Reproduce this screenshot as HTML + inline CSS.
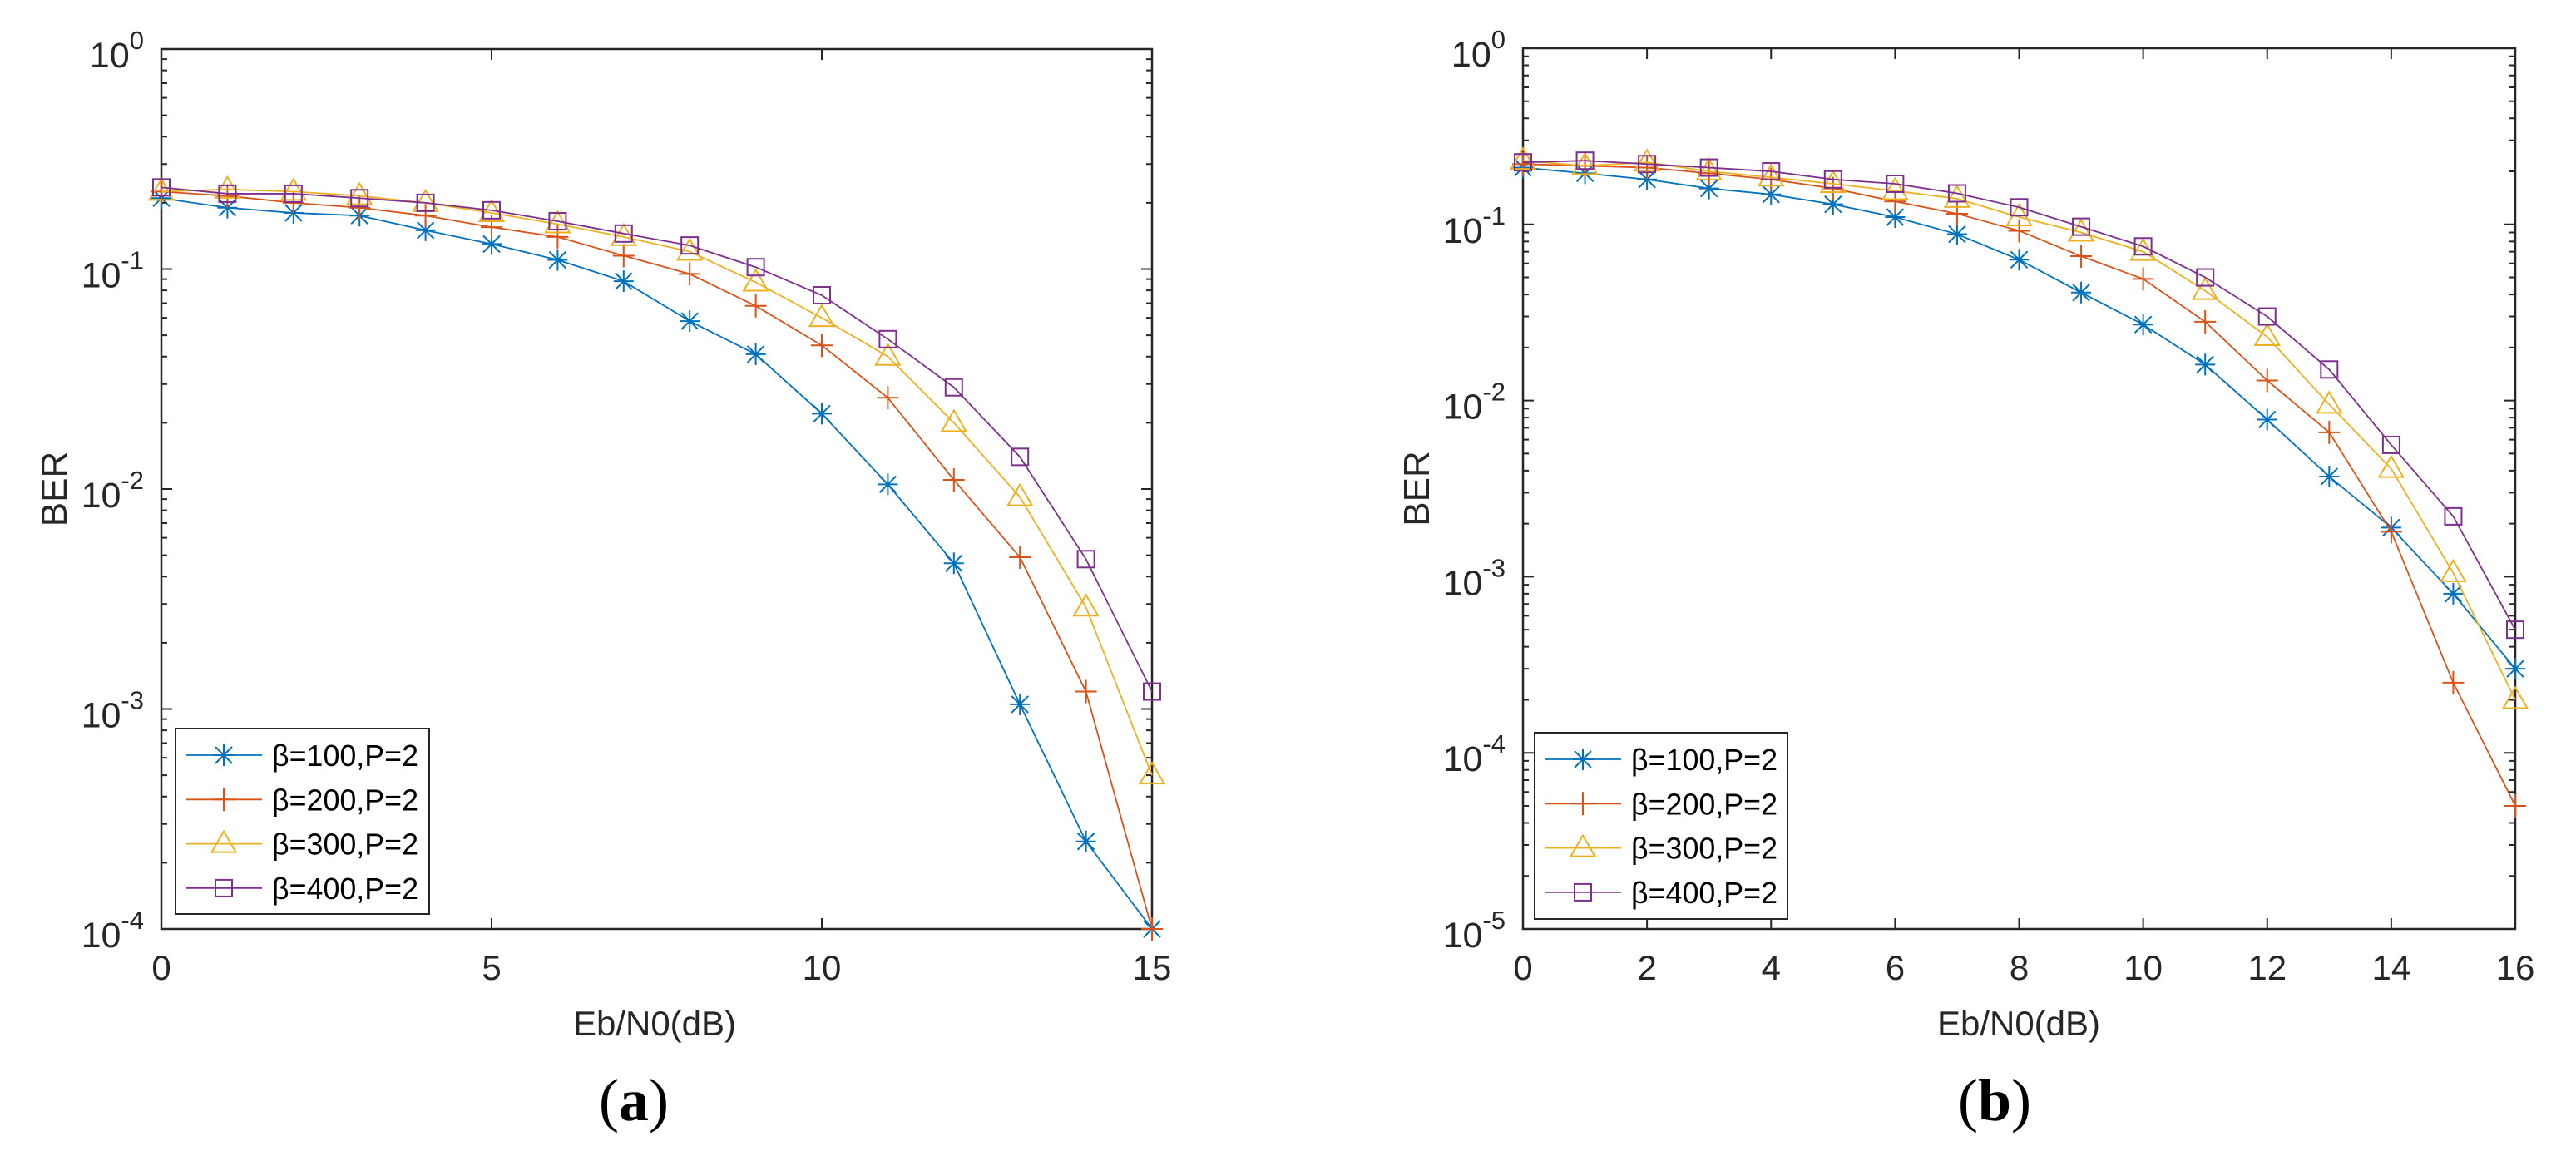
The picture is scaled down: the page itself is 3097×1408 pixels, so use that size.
<!DOCTYPE html>
<html><head><meta charset="utf-8"><style>
html,body{margin:0;padding:0;background:#fff;}
svg{display:block;}
text{font-family:"Liberation Sans",sans-serif;fill:#262626;}
</style></head><body>
<svg id="fig" width="3097" height="1408" viewBox="0 0 3097 1408" xmlns="http://www.w3.org/2000/svg"></svg>
<script>
const seriesLabels = ["β=100,P=2","β=200,P=2","β=300,P=2","β=400,P=2"];
const colors = ["#0072BD","#D95319","#EDB120","#7E2F8E"];
const markers = ["star","plus","tri","sq"];
const xA = [0,1,2,3,4,5,6,7,8,9,10,11,12,13,14,15];
const a100 = [0.21,0.19,0.18,0.175,0.15,0.13,0.11,0.088,0.058,0.041,0.022,0.0105,0.0046,0.00105,0.00025,0.0001];
const a200 = [0.225,0.215,0.2,0.19,0.175,0.155,0.14,0.115,0.095,0.068,0.045,0.026,0.011,0.0049,0.0012,0.0001];
const a300 = [0.225,0.23,0.225,0.215,0.2,0.18,0.16,0.14,0.12,0.087,0.06,0.04,0.02,0.0092,0.0029,0.0005];
const a400 = [0.235,0.22,0.22,0.21,0.2,0.185,0.165,0.145,0.128,0.102,0.076,0.048,0.029,0.014,0.0048,0.0012];
const xB = [0,1,2,3,4,5,6,7,8,9,10,11,12,13,14,15,16];
const b100 = [0.21,0.195,0.18,0.16,0.148,0.13,0.11,0.088,0.063,0.041,0.027,0.016,0.0078,0.0037,0.0019,0.0008,0.0003];
const b200 = [0.22,0.215,0.21,0.195,0.18,0.16,0.135,0.115,0.092,0.066,0.049,0.028,0.013,0.0066,0.0018,0.00025,0.00005];
const b300 = [0.23,0.215,0.225,0.2,0.185,0.17,0.155,0.14,0.11,0.09,0.07,0.042,0.023,0.0095,0.0041,0.00105,0.0002];
const b400 = [0.225,0.23,0.22,0.21,0.2,0.18,0.17,0.15,0.125,0.097,0.075,0.05,0.03,0.015,0.0056,0.0022,0.0005];
const xTicksA = [0,5,10,15];
const xTicksB = [0,2,4,6,8,10,12,14,16];

const NS="http://www.w3.org/2000/svg";
const svg=document.getElementById('fig');
function mk(tag,attrs,parent){const e=document.createElementNS(NS,tag);for(const k in attrs)e.setAttribute(k,attrs[k]);(parent||svg).appendChild(e);return e;}

function marker(g,type,x,y,c){
  const s={stroke:c,'stroke-width':2,fill:'none'};
  let m;
  if(type==='star'){
    m=mk('path',Object.assign({d:`M${x-12},${y}H${x+12}M${x},${y-13}V${y+13}M${x-10},${y-10}L${x+10},${y+10}M${x-10},${y+10}L${x+10},${y-10}`},s),g);
  }else if(type==='plus'){
    m=mk('path',Object.assign({d:`M${x-13},${y}H${x+13}M${x},${y-14}V${y+14}`},s),g);
  }else if(type==='tri'){
    m=mk('path',Object.assign({d:`M${x},${y-15}L${x+14.5},${y+10}L${x-14.5},${y+10}Z`},s),g);
  }else{
    m=mk('rect',Object.assign({x:x-10,y:y-10,width:20,height:20},s),g);
  }
  
  
}

function panel(id,L,R,T,B,xmax,xs,series,xticks,decMin,legBox,letter,letterX,xlX,berX){
  const g=mk('g',{});
  
  
  const X=v=>L+(R-L)*v/xmax;
  const Y=v=>T+(B-T)*(0-Math.log10(v))/(0-decMin);
  const box=mk('rect',{x:L,y:T,width:R-L,height:B-T,fill:'none',stroke:'#262626','stroke-width':2.5},g);
  
  
  for(let d=0;d>=decMin;d--){
    const y=Y(Math.pow(10,d));
    mk('path',{d:`M${L},${y}h13M${R},${y}h-13`,stroke:'#262626','stroke-width':2},g);
    const t=mk('text',{x:L-21,y:y+22,'text-anchor':'end','font-size':43},g);
    
    
    t.innerHTML=`10<tspan font-size="31" dy="-22">${d===0?'0':'-'+(-d)}</tspan>`;
    if(d>decMin){for(let k=2;k<=9;k++){const yy=Y(k*Math.pow(10,d-1));mk('path',{d:`M${L},${yy}h7M${R},${yy}h-7`,stroke:'#262626','stroke-width':2},g);}}
  }
  xticks.forEach(v=>{
    const x=X(v);
    mk('path',{d:`M${x},${B}v-13M${x},${T}v13`,stroke:'#262626','stroke-width':2},g);
    const t=mk('text',{x:x,y:B+61,'text-anchor':'middle','font-size':42},g);
    
    
    t.textContent=v;
  });
  const xl=mk('text',{x:xlX,y:1245,'text-anchor':'middle','font-size':42},g);
  
  
  xl.textContent='Eb/N0(dB)';
  const yl=mk('text',{x:0,y:0,'text-anchor':'middle','font-size':44,transform:`translate(${berX+16},${(T+B)/2}) rotate(-90)`},g);
  
  
  yl.textContent='BER';
  series.forEach((ser,i)=>{
    const sg=mk('g',{},g);
    
    
    const pts=xs.map((x,j)=>X(x)+','+Y(ser[j])).join(' ');
    const pl=mk('polyline',{points:pts,fill:'none',stroke:colors[i],'stroke-width':1.8},sg);
    
    
    xs.forEach((x,j)=>marker(sg,markers[i],X(x),Y(ser[j]),colors[i]));
  });
  const lg=mk('g',{},g);
  
  
  mk('rect',{x:legBox[0],y:legBox[1],width:legBox[2],height:legBox[3],fill:'#fff',stroke:'#262626','stroke-width':2},lg);
  seriesLabels.forEach((lab,i)=>{
    const y=legBox[1]+32+i*53.3;
    const e=mk('g',{},lg);
    
    
    mk('line',{x1:legBox[0]+13,x2:legBox[0]+104,y1:y,y2:y,stroke:colors[i],'stroke-width':1.8},e);
    marker(e,markers[i],legBox[0]+58,y,colors[i]);
    const t=mk('text',{x:legBox[0]+116,y:y+13,'font-size':36,textLength:176,lengthAdjust:'spacingAndGlyphs'},e);
    t.setAttribute('style','fill:#000');
    t.textContent=lab;
  });
  const lt=mk('text',{x:letterX,y:1347,'text-anchor':'middle','font-size':72,style:'font-family:"Liberation Serif",serif;fill:#000'},g);
  
  
  lt.innerHTML=`(<tspan font-weight="bold">${letter}</tspan>)`;
}
panel('a',194,1385,59,1117,15,xA,[a100,a200,a300,a400],xTicksA,-4,[211,876,305,223],'a',762,787,64);
panel('b',1831,3024,58,1117,16,xB,[b100,b200,b300,b400],xTicksB,-5,[1845,881,304,224],'b',2398,2427,1702);
</script>
</body></html>
